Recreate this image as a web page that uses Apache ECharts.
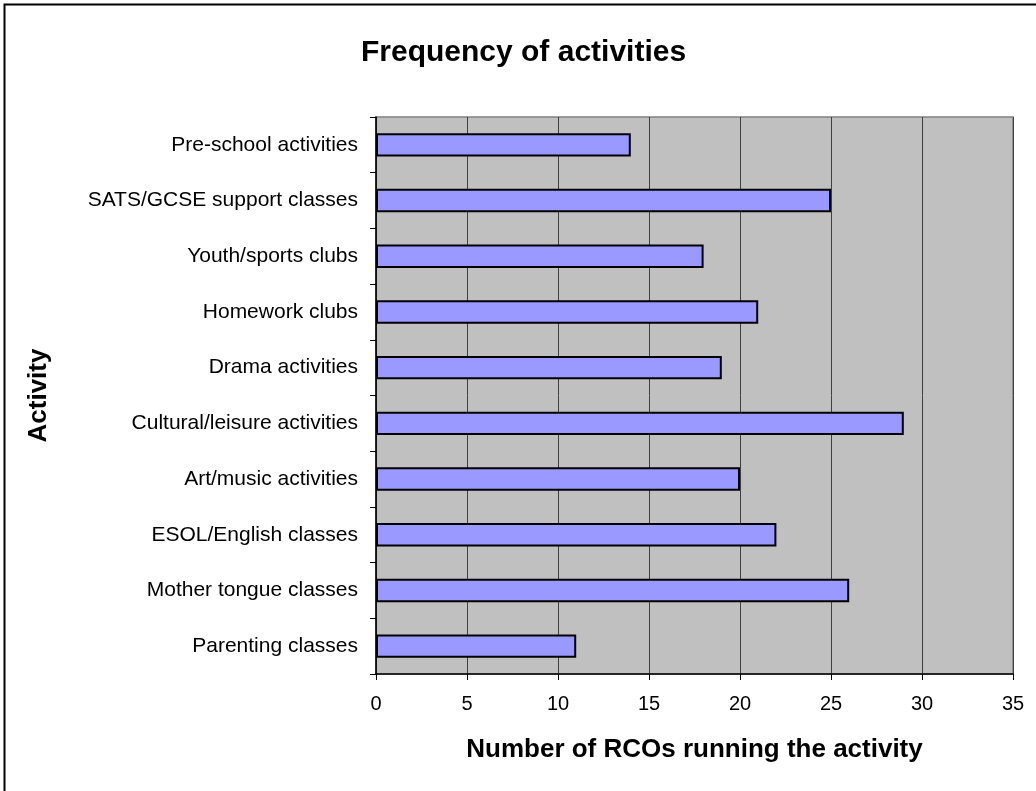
<!DOCTYPE html>
<html>
<head>
<meta charset="utf-8">
<script src="https://cdn.jsdelivr.net/npm/echarts@6/dist/echarts.min.js"></script>
<style>
html,body{margin:0;padding:0;background:#fff;}
#chart{width:1036px;height:791px;}
</style>
</head>
<body>
<div id="chart"></div>
<script>
const categories = [
  "Pre-school activities",
  "SATS/GCSE support classes",
  "Youth/sports clubs",
  "Homework clubs",
  "Drama activities",
  "Cultural/leisure activities",
  "Art/music activities",
  "ESOL/English classes",
  "Mother tongue classes",
  "Parenting classes"
];
const values = [14, 25, 18, 21, 19, 29, 20, 22, 26, 11];
const titleText = "Frequency of activities";
const xAxisTitle = "Number of RCOs running the activity";
const yAxisTitle = "Activity";

const chart = echarts.init(document.getElementById('chart'), null, {renderer: 'canvas'});
const font = "'Liberation Sans', Arial, sans-serif";
chart.setOption({
  animation: false,
  backgroundColor: '#ffffff',
  title: {
    text: titleText,
    left: 361,
    top: 38,
    padding: 0,
    textStyle: {fontFamily: font, fontSize: 30, fontWeight: 'bold', color: '#000'}
  },
  graphic: [{
    type: 'rect',
    shape: {x: 4.5, y: 4.5, width: 1060, height: 800},
    style: {fill: 'none', stroke: '#000', lineWidth: 2},
    silent: true
  }],
  grid: {
    left: 376, right: 23, top: 117, bottom: 117,
    show: true,
    backgroundColor: '#C0C0C0',
    borderColor: '#808080',
    borderWidth: 1.5
  },
  xAxis: {
    type: 'value',
    min: 0, max: 35, interval: 5,
    name: xAxisTitle,
    nameLocation: 'middle',
    nameGap: 63,
    nameTextStyle: {fontFamily: font, fontSize: 26, fontWeight: 'bold', color: '#000', verticalAlign: 'top'},
    axisLine: {show: true, lineStyle: {color: '#000', width: 1.5}},
    axisTick: {show: true, length: 6, lineStyle: {color: '#000'}},
    axisLabel: {fontFamily: font, fontSize: 20, color: '#000', margin: 20},
    splitLine: {show: true, lineStyle: {color: '#404040', width: 1}}
  },
  yAxis: {
    type: 'category',
    data: categories,
    inverse: true,
    name: yAxisTitle,
    nameLocation: 'middle',
    nameGap: 324,
    nameRotate: 90,
    nameTextStyle: {fontFamily: font, fontSize: 26, fontWeight: 'bold', color: '#000'},
    axisLine: {show: true, lineStyle: {color: '#000', width: 1.5}},
    axisTick: {show: true, length: 6, lineStyle: {color: '#000'}},
    axisLabel: {fontFamily: font, fontSize: 21, color: '#000', margin: 18}
  },
  series: [{
    type: 'bar',
    data: values,
    barCategoryGap: '58%',
    itemStyle: {color: '#9999FF', borderColor: '#000', borderWidth: 2}
  }]
});
</script>
</body>
</html>
